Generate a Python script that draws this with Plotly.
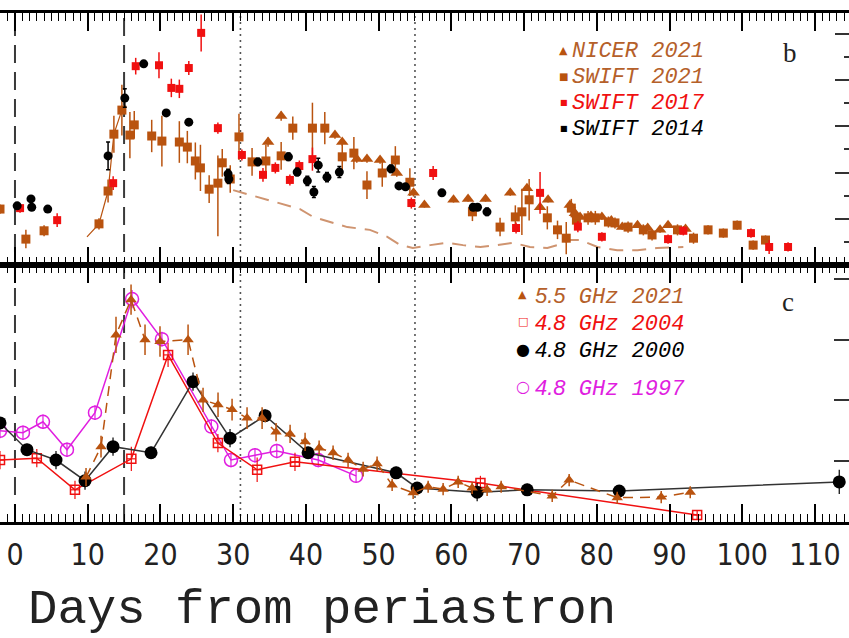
import plotly.graph_objects as go

# ---------------- panel b : X-ray flux (arbitrary units) ----------------
nicer21_day = [34.8, 36.6, 44.0, 45.0, 47.0, 48.4, 50.2, 52.5, 54.8, 56.3, 60.3, 62.3, 64.7, 68.1,
               70.4, 72.2, 73.3, 76.3, 77.0, 77.7, 79.2, 80.7, 82.0, 83.5, 85.6, 87.0, 88.7, 89.8, 92.2]
nicer21_flux = [2.66, 3.22, 2.81, 2.66, 2.29, 2.29, 2.27, 1.99, 1.56, 1.30, 1.41, 1.43, 1.43, 1.56,
                1.66, 1.25, 1.41, 1.30, 1.12, 1.04, 1.06, 1.04, 0.96, 0.82, 0.86, 0.80, 0.76, 0.86, 0.78]
nicer21_err = [0.1, 0.1, 0.08, 0.08, 0.08, 0.08, 0.08, 0.08, 0.08, 0.06, 0.06, 0.06, 0.06, 0.06,
               0.06, 0.06, 0.06, 0.06, 0.06, 0.06, 0.06, 0.06, 0.06, 0.06, 0.06, 0.06, 0.06, 0.06, 0.06]

swift21_day = [-2.06, 1.5, 4.0, 11.55, 12.8, 13.6, 14.7, 15.8, 16.4, 18.8, 20.2, 22.6, 23.7, 24.8,
               25.5, 26.7, 27.9, 28.5, 29.6, 30.8, 32.6, 34.5, 36.6, 38.2, 40.9, 42.6, 45.0, 46.6,
               48.4, 50.5, 52.3, 54.3, 62.9, 66.7, 68.8, 69.7, 70.7, 73.2, 74.6, 75.8, 76.5, 77.2,
               78.8, 79.8, 81.6, 82.5, 84.3, 86.4, 87.6, 91.1, 93.3, 95.3, 97.4, 99.3, 101.5, 103.2]
swift21_flux = [1.21, 0.56, 0.74, 0.89, 1.60, 2.83, 3.35, 2.81, 3.03, 2.79, 2.68, 2.66, 2.55, 2.25,
                2.10, 1.64, 1.77, 2.21, 1.86, 2.77, 2.23, 2.25, 2.36, 2.96, 2.96, 2.96, 2.34, 2.42,
                1.73, 1.99, 2.27, 1.79, 1.15, 0.82, 1.04, 1.15, 1.41, 1.02, 0.76, 0.58, 1.23, 0.97,
                1.02, 1.02, 0.93, 0.91, 0.82, 0.76, 0.65, 0.76, 0.58, 0.76, 0.69, 0.86, 0.43, 0.54]
swift21_err_hi = [0.1, 0.2, 0.12, 0.12, 0.25, 0.4, 0.55, 0.5, 0.3, 0.35, 0.55, 0.45, 0.35, 0.4,
                  0.5, 0.3, 0.6, 0.3, 0.3, 0.5, 0.3, 0.35, 0.3, 0.25, 0.55, 0.35, 0.3, 0.35,
                  0.3, 0.3, 0.3, 0.3, 0.2, 0.2, 0.25, 0.5, 0.45, 0.25, 0.2, 0.35, 0.2, 0.15,
                  0.15, 0.15, 0.12, 0.12, 0.12, 0.12, 0.12, 0.12, 0.12, 0.1, 0.1, 0.1, 0.1, 0.1]
swift21_err_lo = [0.1, 0.2, 0.12, 0.12, 0.25, 0.4, 0.55, 0.5, 0.3, 0.35, 0.55, 0.45, 0.35, 0.4,
                  0.5, 0.3, 1.15, 0.3, 0.3, 0.5, 0.3, 0.35, 0.3, 0.25, 0.7, 0.35, 0.3, 0.35,
                  0.3, 0.3, 0.3, 0.3, 0.2, 0.2, 0.25, 0.5, 0.45, 0.25, 0.2, 0.35, 0.2, 0.15,
                  0.15, 0.15, 0.12, 0.12, 0.12, 0.12, 0.12, 0.12, 0.12, 0.1, 0.1, 0.1, 0.1, 0.1]

swift17_day = [0.7, 5.8, 13.5, 16.6, 19.8, 21.5, 22.6, 23.9, 25.6, 27.9, 31.2, 34.1, 35.8, 37.8,
               39.1, 40.9, 54.5, 57.5, 68.9, 72.2, 77.4, 80.7, 89.8, 91.9, 101.2, 103.7, 106.3]
swift17_flux = [1.23, 0.97, 1.77, 4.30, 4.32, 3.83, 3.81, 4.26, 5.02, 2.96, 2.38, 1.95, 2.10, 1.84,
                2.14, 2.29, 1.34, 1.99, 0.80, 1.56, 0.83, 0.61, 0.56, 0.74, 0.69, 0.39, 0.39]
swift17_err = [0.1, 0.15, 0.15, 0.18, 0.28, 0.2, 0.2, 0.15, 0.4, 0.12, 0.12, 0.15, 0.12, 0.12,
               0.12, 0.25, 0.12, 0.15, 0.12, 0.45, 0.12, 0.1, 0.1, 0.1, 0.1, 0.15, 0.1]

swift14_day = [0.3, 2.2, 2.3, 4.5, 12.8, 15.1, 17.7, 20.8, 23.9, 29.3, 29.4, 33.4, 37.6, 38.8,
               40.2, 41.1, 41.7, 42.9, 44.6, 51.7, 52.8, 53.7, 58.7, 63.0, 63.6, 64.9]
swift14_flux = [1.28, 1.43, 1.25, 1.21, 2.36, 3.61, 4.35, 3.29, 3.09, 1.97, 1.86, 2.23, 2.34, 2.01,
                1.82, 1.58, 2.16, 1.90, 2.01, 2.08, 1.71, 1.69, 1.56, 1.25, 1.25, 1.15]
swift14_err = [0.05, 0.05, 0.05, 0.05, 0.3, 0.2, 0.05, 0.05, 0.05, 0.1, 0.1, 0.08, 0.08, 0.08,
               0.1, 0.12, 0.15, 0.1, 0.12, 0.08, 0.05, 0.05, 0.05, 0.05, 0.05, 0.08]

rise_day = [9.9, 11.55, 12.8, 13.6, 14.7]
rise_flux = [0.61, 0.89, 1.60, 2.83, 3.35]

model_day = [30.0, 39.2, 41.0, 45.7, 48.8, 51.2, 53.0, 54.7, 57.1, 59.4, 61.6, 64.0, 66.3, 68.5,
             70.8, 73.2, 74.6, 76.3, 77.7, 80.1, 82.8, 85.6, 88.3, 91.9]
model_flux = [1.62, 1.21, 1.04, 0.82, 0.76, 0.61, 0.43, 0.37, 0.43, 0.48, 0.43, 0.39, 0.43, 0.48,
              0.39, 0.37, 0.43, 0.54, 0.54, 0.39, 0.32, 0.32, 0.37, 0.39]

# ---------------- panel c : radio flux density (mJy) ----------------
r55_2021_day = [9.77, 11.83, 13.89, 15.96, 17.88, 19.94, 23.80, 25.86, 27.92, 29.85, 31.91, 33.98,
                35.90, 37.83, 39.89, 41.82, 43.74, 45.80, 47.87, 49.79, 51.86, 54.75, 56.81, 58.87,
                60.94, 62.86, 64.92, 66.85, 73.87, 76.20, 82.81, 88.86, 92.85]
r55_2021_flux = [7.4, 12.4, 30.8, 36.6, 30.0, 29.7, 30.0, 20.1, 19.3, 18.5, 17.1, 17.1,
                 14.8, 14.5, 13.2, 12.2, 11.4, 10.2, 8.7, 9.6, 6.1, 4.8, 5.8, 5.4,
                 6.6, 5.6, 5.3, 5.8, 4.3, 6.9, 4.0, 4.1, 4.9]
r55_2021_err = [1.5, 1.8, 3.0, 2.5, 2.5, 2.5, 2.5, 2.0, 2.0, 1.8, 1.8, 1.8,
                1.5, 1.5, 1.5, 1.2, 1.2, 1.2, 1.2, 1.2, 1.0, 1.0, 1.0, 1.0,
                1.0, 1.0, 1.0, 1.0, 1.0, 1.0, 1.0, 1.0, 1.0]

r48_2004_day = [-2.06, 3.0, 8.25, 16.0, 21.05, 27.9, 33.3, 38.5, 64.0, 93.8]
r48_2004_flux = [10.2, 10.5, 5.3, 10.4, 27.5, 13.0, 8.6, 9.9, 6.4, 1.15]
r48_2004_err = [1.5, 1.5, 1.5, 2.0, 2.0, 1.5, 2.0, 1.5, 1.2, 0.8]

r48_2000_day = [-2.06, 1.65, 5.64, 9.63, 13.48, 18.71, 24.48, 29.57, 34.39, 40.30, 52.41, 55.30,
                63.55, 70.43, 83.08, 113.34]
r48_2000_flux = [16.3, 11.9, 10.2, 6.8, 12.4, 11.4, 23.1, 13.8, 17.5, 11.4, 8.1, 5.6,
                 4.9, 5.3, 5.1, 6.6]
r48_2000_err = [1.0, 1.0, 1.5, 1.5, 1.5, 1.0, 1.5, 1.5, 1.0, 1.0, 1.0, 1.0,
                1.5, 1.0, 1.0, 2.0]

r48_1997_day = [-2.06, 1.1, 3.85, 7.15, 11.0, 16.1, 20.2, 27.0, 29.7, 33.0, 36.0, 41.7, 46.9]
r48_1997_flux = [15.0, 14.7, 16.5, 11.9, 18.0, 36.7, 30.1, 15.7, 10.2, 11.0, 11.7, 10.2, 7.6]
r48_1997_err = [1.2, 1.2, 1.2, 1.2, 1.2, 1.5, 1.2, 1.2, 1.2, 1.2, 1.2, 1.2, 1.2]

# vertical markers (days from periastron)
dashed_days = [0, 15]
dotted_days = [31, 55]

# axis settings (data units)
day_range = [-2.06, 114.68]
xray_range = [0, 5.45]
radio_range = [0, 42.3]
day_ticks = list(range(0, 111, 10))

BROWN = "#b9530f"
BROWN_TXT = "#b5602a"
RED = "#f01010"
BLACK = "#000000"
MAGENTA = "#e01ee0"

fig = go.Figure()

# ---- panel b traces (xaxis2 / yaxis2) ----
fig.add_trace(go.Scatter(x=model_day, y=model_flux, mode="lines", xaxis="x2", yaxis="y2",
                         line=dict(color="#cf9470", width=2, dash="14px,9px"), hoverinfo="skip"))
fig.add_trace(go.Scatter(x=rise_day, y=rise_flux, mode="lines", xaxis="x2", yaxis="y2",
                         line=dict(color=BROWN, width=1.2), hoverinfo="skip"))
fig.add_trace(go.Scatter(x=swift21_day, y=swift21_flux, mode="markers", xaxis="x2", yaxis="y2",
                         marker=dict(symbol="square", size=9, color=BROWN),
                         error_y=dict(type="data", array=swift21_err_hi, arrayminus=swift21_err_lo,
                                      color=BROWN, thickness=1.5, width=0),
                         error_x=dict(type="constant", value=0.45, color=BROWN, thickness=1.5, width=0)))
fig.add_trace(go.Scatter(x=nicer21_day, y=nicer21_flux, mode="markers", xaxis="x2", yaxis="y2",
                         marker=dict(symbol="triangle-up", size=11, color=BROWN),
                         error_y=dict(type="data", array=nicer21_err, color=BROWN, thickness=1.5, width=0)))
fig.add_trace(go.Scatter(x=swift17_day, y=swift17_flux, mode="markers", xaxis="x2", yaxis="y2",
                         marker=dict(symbol="square", size=8, color=RED),
                         error_y=dict(type="data", array=swift17_err, color=RED, thickness=1.5, width=0),
                         error_x=dict(type="constant", value=0.45, color=RED, thickness=1.5, width=0)))
fig.add_trace(go.Scatter(x=swift14_day, y=swift14_flux, mode="markers", xaxis="x2", yaxis="y2",
                         marker=dict(symbol="circle", size=9, color=BLACK),
                         error_y=dict(type="data", array=swift14_err, color=BLACK, thickness=1.5, width=2)))

# ---- panel c traces (xaxis / yaxis) ----
fig.add_trace(go.Scatter(x=r48_1997_day, y=r48_1997_flux, mode="lines+markers",
                         line=dict(color=MAGENTA, width=1.5),
                         marker=dict(symbol="circle-open", size=13, color=MAGENTA, line=dict(width=1.5)),
                         error_y=dict(type="data", array=r48_1997_err, color=MAGENTA, thickness=1.2, width=0)))
fig.add_trace(go.Scatter(x=r48_2004_day, y=r48_2004_flux, mode="lines+markers",
                         line=dict(color=RED, width=1.5),
                         marker=dict(symbol="square-open", size=9, color=RED, line=dict(width=1.5)),
                         error_y=dict(type="data", array=r48_2004_err, color=RED, thickness=1.2, width=0),
                         error_x=dict(type="constant", value=0.6, color=RED, thickness=1.2, width=0)))
fig.add_trace(go.Scatter(x=r48_2000_day, y=r48_2000_flux, mode="lines+markers",
                         line=dict(color="#333333", width=1.5),
                         marker=dict(symbol="circle", size=13, color=BLACK),
                         error_y=dict(type="data", array=r48_2000_err, color=BLACK, thickness=1.2, width=0)))
fig.add_trace(go.Scatter(x=r55_2021_day, y=r55_2021_flux, mode="lines+markers",
                         line=dict(color=BROWN, width=1.5, dash="10px,7px"),
                         marker=dict(symbol="triangle-up", size=10, color=BROWN),
                         error_y=dict(type="data", array=r55_2021_err, color=BROWN, thickness=1.5, width=0)))

# ---- vertical event lines across both panels ----
shapes = []
for d in dashed_days:
    shapes.append(dict(type="line", xref="x", yref="paper", x0=d, x1=d, y0=0, y1=1,
                       line=dict(color="#3a3a3a", width=2, dash="18px,9px"), layer="below"))
for d in dotted_days:
    shapes.append(dict(type="line", xref="x", yref="paper", x0=d, x1=d, y0=0, y1=1,
                       line=dict(color="#555555", width=1.6, dash="2px,4px"), layer="below"))

# ---- hand-made legends and panel letters ----
MONO = "Liberation Mono, DejaVu Sans Mono, monospace"
ann = []


def sym(x, y, ch, color, size):
    ann.append(dict(xref="paper", yref="paper", x=x, y=y, text=ch, showarrow=False,
                    xanchor="center", yanchor="middle",
                    font=dict(family="DejaVu Sans", size=size, color=color)))


def label(x, y, txt, color, size=22):
    ann.append(dict(xref="paper", yref="paper", x=x, y=y, text=txt, showarrow=False,
                    xanchor="left", yanchor="middle", borderpad=0,
                    font=dict(family=MONO, size=size, color=color, style="italic")))


# panel b legend (rows about 26 px apart)
xb_s, xb_t = 0.664, 0.673
rows_b = [0.924, 0.873, 0.822, 0.771]
sym(xb_s, rows_b[0] + 0.003, "▲", BROWN, 11)
label(xb_t, rows_b[0], "NICER 2021", BROWN_TXT)
sym(xb_s, rows_b[1] + 0.003, "■", BROWN, 10)
label(xb_t, rows_b[1], "SWIFT 2021", BROWN_TXT)
sym(xb_s, rows_b[2] + 0.003, "■", RED, 8)
label(xb_t, rows_b[2], "SWIFT 2017", RED)
sym(xb_s, rows_b[3] + 0.003, "■", BLACK, 8)
label(xb_t, rows_b[3], "SWIFT 2014", BLACK)

# panel c legend
xc_s, xc_t = 0.616, 0.629
rows_c = [0.443, 0.390, 0.336, 0.263]
sym(xc_s, rows_c[0] + 0.003, "▲", BROWN, 11)
label(xc_t, rows_c[0], '<span style="font-family:Liberation Sans">5.5</span> GHz 2021', BROWN_TXT)
sym(xc_s, rows_c[1] + 0.003, "□", RED, 11)
label(xc_t, rows_c[1], '<span style="font-family:Liberation Sans">4.8</span> GHz 2004', RED)
sym(xc_s, rows_c[2] + 0.003, "●", BLACK, 16)
label(xc_t, rows_c[2], '<span style="font-family:Liberation Sans">4.8</span> GHz 2000', BLACK)
sym(xc_s, rows_c[3] + 0.003, "○", MAGENTA, 16)
label(xc_t, rows_c[3], '<span style="font-family:Liberation Sans">4.8</span> GHz 1997', MAGENTA)

# panel letters
for x, y, t in [(0.930, 0.922, "b"), (0.928, 0.432, "c")]:
    ann.append(dict(xref="paper", yref="paper", x=x, y=y, text=t, showarrow=False,
                    xanchor="center", yanchor="middle",
                    font=dict(family="Liberation Serif, DejaVu Serif, serif", size=27, color="#222")))

# axis title
ann.append(dict(xref="paper", yref="paper", x=0.031, y=-0.172, text="Days from periastron",
                showarrow=False, xanchor="left", yanchor="middle",
                font=dict(family=MONO, size=49, color="#222")))

xcommon = dict(range=day_range, tickvals=day_ticks, ticks="inside", ticklen=18, tickwidth=1.6,
               tickcolor="black", showline=True, linewidth=3, linecolor="black",
               mirror="allticks", showgrid=False, zeroline=False,
               minor=dict(ticks="inside", dtick=1, tick0=0, ticklen=8, tickwidth=1.3,
                          tickcolor="black", showgrid=False))

fig.update_layout(
    width=849, height=638,
    margin=dict(l=0, r=0, t=13, b=116),
    paper_bgcolor="white", plot_bgcolor="white",
    showlegend=False,
    xaxis=dict(anchor="y", domain=[0, 1], showticklabels=True, ticklabelstandoff=4,
               tickfont=dict(family="Liberation Sans Narrow, DejaVu Sans Condensed, Liberation Sans",
                             size=30, color="#222"), **xcommon),
    xaxis2=dict(anchor="y2", domain=[0, 1], matches="x", showticklabels=False, **xcommon),
    yaxis=dict(domain=[0, 0.5049], range=radio_range, side="right", ticks="inside",
               dtick=10, tick0=0, ticklen=15, tickwidth=1.6, tickcolor="#333",
               showticklabels=False, showgrid=False, zeroline=False, showline=False),
    yaxis2=dict(domain=[0.5049, 1], range=xray_range, side="right", ticks="inside",
                dtick=1, tick0=0, ticklen=14, tickwidth=1.6, tickcolor="#333",
                showticklabels=False, showgrid=False, zeroline=False, showline=False,
                minor=dict(ticks="inside", dtick=0.5, ticklen=5, tickwidth=1.6, tickcolor="#333")),
    shapes=shapes,
    annotations=ann,
)

fig.write_html("out.html")
